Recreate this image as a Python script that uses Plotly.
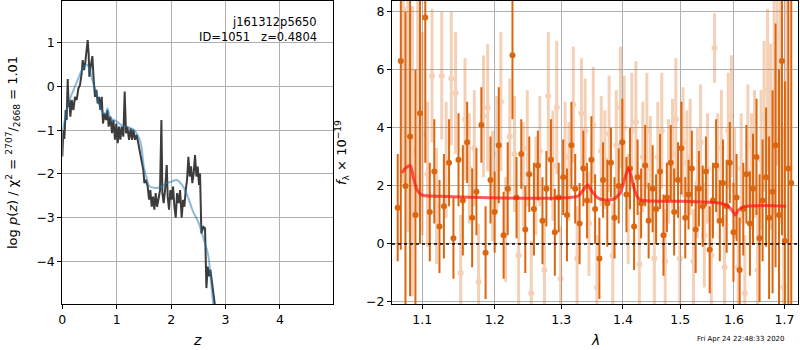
import math
import plotly.graph_objects as go

# ---------------- left panel: p(z) ----------------
z_pz = [0.0, 0.019, 0.037, 0.062, 0.080, 0.099, 0.117, 0.129, 0.148, 0.172, 0.203, 0.233, 0.264,
        0.295, 0.325, 0.356, 0.374, 0.399, 0.423, 0.448, 0.466, 0.484, 0.497, 0.521, 0.552, 0.577,
        0.601, 0.626, 0.650, 0.675, 0.699, 0.724, 0.748, 0.773, 0.803, 0.828, 0.852, 0.883, 0.914,
        0.938, 0.969, 0.993, 1.018, 1.042, 1.067, 1.091, 1.122, 1.146, 1.171, 1.195, 1.226, 1.257,
        1.281, 1.306, 1.336, 1.367, 1.397, 1.428, 1.465, 1.489, 1.508, 1.538, 1.569, 1.594, 1.618,
        1.643, 1.667, 1.692, 1.716, 1.741, 1.765, 1.796, 1.821, 1.839, 1.863, 1.888, 1.919, 1.937,
        1.961, 1.986, 2.010, 2.035, 2.060, 2.084, 2.109, 2.139, 2.164, 2.194, 2.219, 2.243, 2.268,
        2.292, 2.317, 2.341, 2.366, 2.390, 2.415, 2.439, 2.464, 2.488, 2.513, 2.531, 2.556, 2.593,
        2.623, 2.648, 2.672, 2.697, 2.721, 2.752, 2.789, 2.838]
logp = [-1.60, -0.99, -1.20, -0.54, -0.77, 0.17, -0.47, -0.31, -0.69, -0.31, -0.54, -0.24, -0.31,
        -0.05, 0.03, 0.30, 0.60, 0.37, 0.56, 0.83, 1.06, 0.75, 0.22, 0.45, 0.69, 0.14,
        -0.24, -0.08, -0.39, -0.24, -0.54, -0.24, -0.85, -0.62, -0.77, -0.54, -0.92, -0.69, -1.07,
        -0.77, -1.22, -0.85, -1.30, -0.92, -1.22, -0.92, -1.15, -0.12, -1.07, -0.92, -1.22, -0.96,
        -1.22, -0.99, -1.22, -1.11, -1.30, -1.45, -1.76, -1.91, -2.21, -2.14, -2.29, -2.59, -2.37,
        -2.75, -2.52, -2.82, -2.44, -2.75, -2.59, -2.37, -0.77, -2.44, -2.67, -2.37, -1.80, -2.52,
        -2.82, -2.37, -2.59, -2.29, -2.75, -3.00, -2.44, -2.67, -2.37, -3.00, -2.59, -2.75, -2.37,
        -2.14, -1.61, -2.06, -1.83, -2.21, -1.97, -1.57, -2.06, -1.83, -2.25, -1.99, -3.36, -3.21,
        -3.24, -4.61, -4.12, -4.34, -4.19, -4.50, -4.95, -5.33]

z_fit = [0.0, 0.05, 0.10, 0.15, 0.20, 0.25, 0.30, 0.35, 0.40, 0.45, 0.50, 0.55, 0.60, 0.65, 0.70,
         0.75, 0.80, 0.83, 0.87, 0.93, 1.00, 1.10, 1.20, 1.30, 1.40, 1.45, 1.50, 1.55, 1.60, 1.70,
         1.80, 1.90, 2.00, 2.10, 2.20, 2.30, 2.40, 2.50, 2.60, 2.68, 2.72, 2.77, 2.82]
logp_fit = [-1.00, -0.75, -0.45, -0.25, -0.10, 0.05, 0.20, 0.35, 0.45, 0.50, 0.40, 0.15, -0.05,
            -0.30, -0.48, -0.60, -0.62, -0.50, -0.68, -0.76, -0.80, -0.90, -0.93, -0.98, -1.15,
            -1.35, -1.85, -2.10, -2.28, -2.32, -2.30, -2.22, -2.18, -2.14, -2.25, -2.50, -2.85,
            -3.10, -3.50, -3.85, -4.30, -4.95, -5.50]

# ---------------- right panel: spectrum ----------------
wave_a = [1.068, 1.072, 1.078, 1.084, 1.091, 1.097, 1.104, 1.110, 1.116, 1.123, 1.129, 1.136, 1.142,
          1.149, 1.155, 1.161, 1.168, 1.174, 1.181, 1.187, 1.194, 1.200, 1.206, 1.213, 1.219, 1.226,
          1.232, 1.239, 1.245, 1.251, 1.258, 1.264, 1.271, 1.277, 1.284, 1.290, 1.296, 1.303, 1.309,
          1.316, 1.322, 1.329, 1.335, 1.341, 1.348, 1.354, 1.361, 1.367, 1.374, 1.380, 1.386, 1.393,
          1.399, 1.406, 1.412, 1.419, 1.425, 1.431, 1.438, 1.444, 1.451, 1.457, 1.464, 1.470, 1.476,
          1.483, 1.489, 1.496, 1.502, 1.509, 1.515, 1.521, 1.528, 1.534, 1.541, 1.547, 1.554, 1.560,
          1.566, 1.573, 1.579, 1.586, 1.592, 1.599, 1.605, 1.611, 1.618, 1.624, 1.631, 1.637, 1.644,
          1.650, 1.656, 1.663, 1.669, 1.676, 1.682, 1.689, 1.695, 1.701, 1.708, 1.714]
flux_a = [1.25, 6.3, 2.0, 3.7, 1.0, 4.5, 7.8, 1.1, 2.5, 0.6, 1.3, 2.8, 0.2,
          2.9, 1.5, 3.5, 0.9, 1.8, 4.1, -0.3, 2.2, 1.1, 3.4, 0.3, 1.9, 6.5,
          1.6, 3.1, 0.5, 2.4, 1.2, 2.7, 0.8, 1.9, 2.9, 0.4, 1.6, 2.3, 1.0,
          3.4, 1.9, 0.7, 2.6, 1.5, 2.9, 1.2, -0.5, 2.2, 1.4, 2.8, 0.9, 2.0,
          3.5, 1.7, 2.6, 0.6, 2.3, 1.4, 2.7, 0.8, 1.9, 1.2, 2.5, 0.3, 1.6,
          2.8, 1.1, 2.2, 3.3, 0.9, 1.7, 2.6, 0.5, 1.9, 1.3, 2.5, -0.2, 1.5,
          2.7, 0.8, 2.1, 1.3, 2.8, 0.4, 1.6, -0.9, 1.2, 2.4, 0.7, 1.9, 3.0,
          0.2, 1.5, 2.3, 0.9, 1.8, 3.4, 1.0, 6.3, 0.1, 2.6, 2.1]
err_a = [1.85, 6.5, 6.0, 5.5, 5.0, 4.5, 5.0, 1.7, 1.8, 1.6, 1.8, 1.5, 1.4,
         1.6, 1.9, 1.4, 1.7, 1.5, 1.3, 1.6, 1.5, 1.4, 2.0, 1.5, 1.6, 2.2,
         1.4, 1.2, 1.5, 1.3, 1.6, 1.2, 1.5, 1.3, 1.4, 1.5, 1.2, 1.3, 1.6,
         1.5, 1.2, 1.4, 1.3, 1.3, 1.5, 1.2, 1.4, 1.3, 1.5, 1.2, 1.4, 1.3,
         1.5, 1.3, 1.4, 1.5, 1.3, 1.2, 1.4, 1.3, 1.5, 1.2, 1.3, 1.4, 1.2,
         1.3, 1.5, 1.3, 1.6, 1.4, 1.2, 1.3, 1.5, 1.3, 1.4, 1.2, 1.5, 1.3,
         1.6, 1.4, 1.5, 1.6, 1.4, 1.7, 1.5, 1.8, 1.6, 1.7, 1.8, 1.9, 2.0,
         2.2, 2.1, 2.4, 2.8, 3.5, 4.2, 5.0, 6.0, 5.5, 6.5, 7.0]

wave_b = [1.075, 1.081, 1.087, 1.094, 1.100, 1.107, 1.113, 1.119, 1.126, 1.132, 1.139, 1.145, 1.152,
          1.158, 1.164, 1.171, 1.177, 1.184, 1.190, 1.197, 1.203, 1.209, 1.216, 1.222, 1.229, 1.235,
          1.242, 1.248, 1.254, 1.261, 1.267, 1.274, 1.280, 1.287, 1.293, 1.299, 1.306, 1.312, 1.319,
          1.325, 1.332, 1.338, 1.344, 1.351, 1.357, 1.364, 1.370, 1.377, 1.383, 1.389, 1.396, 1.402,
          1.409, 1.415, 1.422, 1.428, 1.434, 1.441, 1.447, 1.454, 1.460, 1.467, 1.473, 1.479, 1.486,
          1.492, 1.499, 1.505, 1.512, 1.518, 1.524, 1.531, 1.537, 1.544, 1.550, 1.557, 1.563, 1.569,
          1.576, 1.582, 1.589, 1.595, 1.601, 1.608, 1.614, 1.621, 1.627, 1.634, 1.640, 1.646, 1.653,
          1.659, 1.666, 1.672, 1.679, 1.685, 1.691, 1.698, 1.704]
flux_b = [8.1, 5.9, 3.2, 5.4, 3.8, 2.4, 5.8, 1.3, 5.8, 2.9, 5.7, 5.2, -1.0,
          4.3, 2.6, 3.3, -1.3, 4.4, 4.7, 2.0, 3.1, 4.9, 0.5, 3.7, 3.1, -0.4,
          2.4, 3.3, -1.7, 2.0, 3.2, -0.9, 5.1, 2.7, 4.7, -1.2, 3.0, 2.5, 4.8,
          -0.5, 4.5, 3.9, 0.7, 4.1, -1.5, 3.2, 2.9, 3.8, -0.4, 3.4, 4.7, 4.0,
          1.2, 3.9, 4.2, -0.7, 3.0, 3.9, 2.6, -0.5, 3.0, 3.9, -0.6, 2.5, 3.1,
          4.3, -0.5, 3.5, 2.8, 3.0, -0.6, 2.1, 3.5, 0.3, 2.6, -0.4, 6.75, 2.6,
          3.3, -0.8, 3.9, 4.4, 2.1, -0.8, 2.6, -1.7, 3.4, 2.5, 3.1, -0.9, 2.9,
          4.4, 5.3, 3.7, 4.8, 7.2, 5.7, -1.5, 8.5]
err_b = [6.0, 5.5, 5.0, 4.5, 3.5, 2.5, 2.3, 2.0, 2.2, 2.0, 2.3, 2.1, 2.0,
         2.1, 1.9, 2.0, 2.0, 2.1, 2.2, 1.9, 2.0, 2.4, 1.8, 2.0, 2.0, 1.9,
         1.8, 2.0, 1.8, 1.7, 1.9, 1.8, 2.2, 1.9, 2.3, 1.8, 1.9, 1.7, 2.0,
         1.8, 1.9, 1.8, 1.8, 2.0, 1.8, 1.9, 1.7, 2.0, 1.8, 1.9, 2.1, 1.8,
         1.9, 2.0, 2.1, 1.8, 1.9, 2.0, 1.8, 1.8, 1.9, 2.0, 1.8, 1.8, 1.9,
         2.1, 1.8, 1.9, 1.8, 2.0, 1.8, 1.9, 2.0, 1.8, 1.9, 1.8, 1.2, 1.9,
         2.0, 1.8, 2.0, 2.1, 1.9, 1.9, 1.9, 2.0, 2.1, 2.0, 2.2, 2.2, 2.4,
         2.6, 2.8, 3.2, 3.8, 4.5, 5.0, 5.5, 6.0]

wave_model = [1.0735, 1.0778, 1.0843, 1.0882, 1.0930, 1.0974, 1.1017, 1.124, 1.1794, 1.2524, 1.3141,
              1.3267, 1.3347, 1.3417, 1.3493, 1.3574, 1.3673, 1.3838, 1.3954, 1.4038, 1.4097, 1.4157,
              1.4225, 1.4294, 1.5051, 1.5679, 1.5868, 1.5965, 1.6022, 1.6080, 1.6177, 1.645, 1.7035]
flux_model = [2.45, 2.60, 2.70, 2.30, 1.87, 1.72, 1.67, 1.64, 1.60, 1.57, 1.60,
              1.65, 1.85, 2.04, 1.80, 1.60, 1.52, 1.54, 1.75, 2.30, 2.62, 2.20,
              1.70, 1.52, 1.47, 1.42, 1.33, 1.15, 1.00, 1.15, 1.28, 1.32, 1.30]

x_ticks = [1.1, 1.2, 1.3, 1.4, 1.5, 1.6, 1.7]
y2_ticks = [-2, 0, 2, 4, 6, 8]
y1_ticks = [-4, -3, -2, -1, 0, 1]
x1_ticks = [0, 1, 2, 3, 4]

ORANGE = "rgb(219,102,16)"
FONT = "DejaVu Sans"


def lab(v):
    s = ("%g" % v)
    return s.replace("-", "\u2212")


fig = go.Figure()

fig.add_trace(go.Scatter(x=z_pz, y=logp, mode="lines", line=dict(color="rgb(60,60,60)", width=2),
                         xaxis="x", yaxis="y", showlegend=False))
fig.add_trace(go.Scatter(x=z_fit, y=logp_fit, mode="lines", line=dict(color="rgb(31,119,180)", width=2,
                         shape="spline"), opacity=0.5, xaxis="x", yaxis="y", showlegend=False))

fig.add_trace(go.Scatter(x=wave_b, y=flux_b, mode="markers", opacity=0.3,
                         marker=dict(color=ORANGE, size=6),
                         error_y=dict(type="data", array=err_b, color=ORANGE, thickness=3, width=0),
                         xaxis="x2", yaxis="y2", showlegend=False))
fig.add_trace(go.Scatter(x=wave_a, y=flux_a, mode="markers",
                         marker=dict(color=ORANGE, size=6),
                         error_y=dict(type="data", array=err_a, color=ORANGE, thickness=2, width=0),
                         xaxis="x2", yaxis="y2", showlegend=False))
fig.add_trace(go.Scatter(x=wave_model, y=flux_model, mode="lines",
                         line=dict(color="rgb(255,20,20)", width=3, shape="spline", smoothing=0.6),
                         opacity=0.7, xaxis="x2", yaxis="y2", showlegend=False))

fig.add_shape(type="line", xref="x2 domain", x0=0, x1=1, yref="y2", y0=0, y1=0,
              line=dict(color="black", width=1.6, dash="dot"), layer="above")

ax_common = dict(showgrid=True, gridcolor="#b0b0b0", gridwidth=1, showline=True, mirror=True,
                 linecolor="black", linewidth=1, ticks="outside", ticklen=4, tickcolor="black",
                 zeroline=False, automargin=False,
                 tickfont=dict(family=FONT, size=12.5, color="black"))

ydom = [0.1306, 0.997]
fig.update_layout(
    width=800, height=350, margin=dict(l=0, r=0, t=0, b=0, pad=0, autoexpand=False),
    paper_bgcolor="white", plot_bgcolor="white", font=dict(family=FONT, color="black"),
    xaxis=dict(domain=[0.0779, 0.4166], range=[0, 4.98], anchor="y",
               tickvals=x1_ticks, ticktext=[lab(v) for v in x1_ticks], **ax_common),
    yaxis=dict(domain=ydom, range=[-4.98, 1.95], anchor="x",
               tickvals=y1_ticks, ticktext=[lab(v) for v in y1_ticks], **ax_common),
    xaxis2=dict(domain=[0.49, 0.9975], type="log", range=[math.log10(1.0607), math.log10(1.728)],
                anchor="y2", tickvals=x_ticks, ticktext=[lab(v) for v in x_ticks], **ax_common),
    yaxis2=dict(domain=ydom, range=[-2.08, 8.37], anchor="x2",
                tickvals=y2_ticks, ticktext=[lab(v) for v in y2_ticks], **ax_common),
)

ann = [
    dict(text="<i>z</i>", x=197 / 800, y=1 - 340 / 350, font=dict(size=14)),
    dict(text="<i>λ</i>", x=595 / 800, y=1 - 340 / 350, font=dict(size=14)),
    dict(text="log <i>p</i>(<i>z</i>) / χ<sup>2</sup> = <sup>2707</sup>/<sub>2668</sub> = 1.01",
         x=13 / 800, y=1 - 153 / 350, textangle=-90, font=dict(size=13)),
    dict(text="<i>f</i><sub>λ</sub> × 10<sup>−19</sup>", x=342 / 800, y=1 - 153 / 350,
         textangle=-90, font=dict(size=13)),
    dict(text="j161312p5650", x=319 / 800, y=1 - 22 / 350, xanchor="right", font=dict(size=11.5)),
    dict(text="ID=1051\u00a0\u00a0\u00a0z=0.4804", x=319 / 800, y=1 - 37 / 350, xanchor="right",
         font=dict(size=11.5)),
    dict(text="Fri Apr 24 22:48:33 2020", x=787 / 800, y=1 - 339 / 350, xanchor="right",
         font=dict(size=7)),
]
for a in ann:
    a.setdefault("xanchor", "center")
    a["font"] = dict(family=FONT, color="black", **a["font"])
    fig.add_annotation(xref="paper", yref="paper", showarrow=False, yanchor="middle", **a)

fig.write_html("out.html", config={"displayModeBar": False},
               post_script="document.body.style.margin='0';")
